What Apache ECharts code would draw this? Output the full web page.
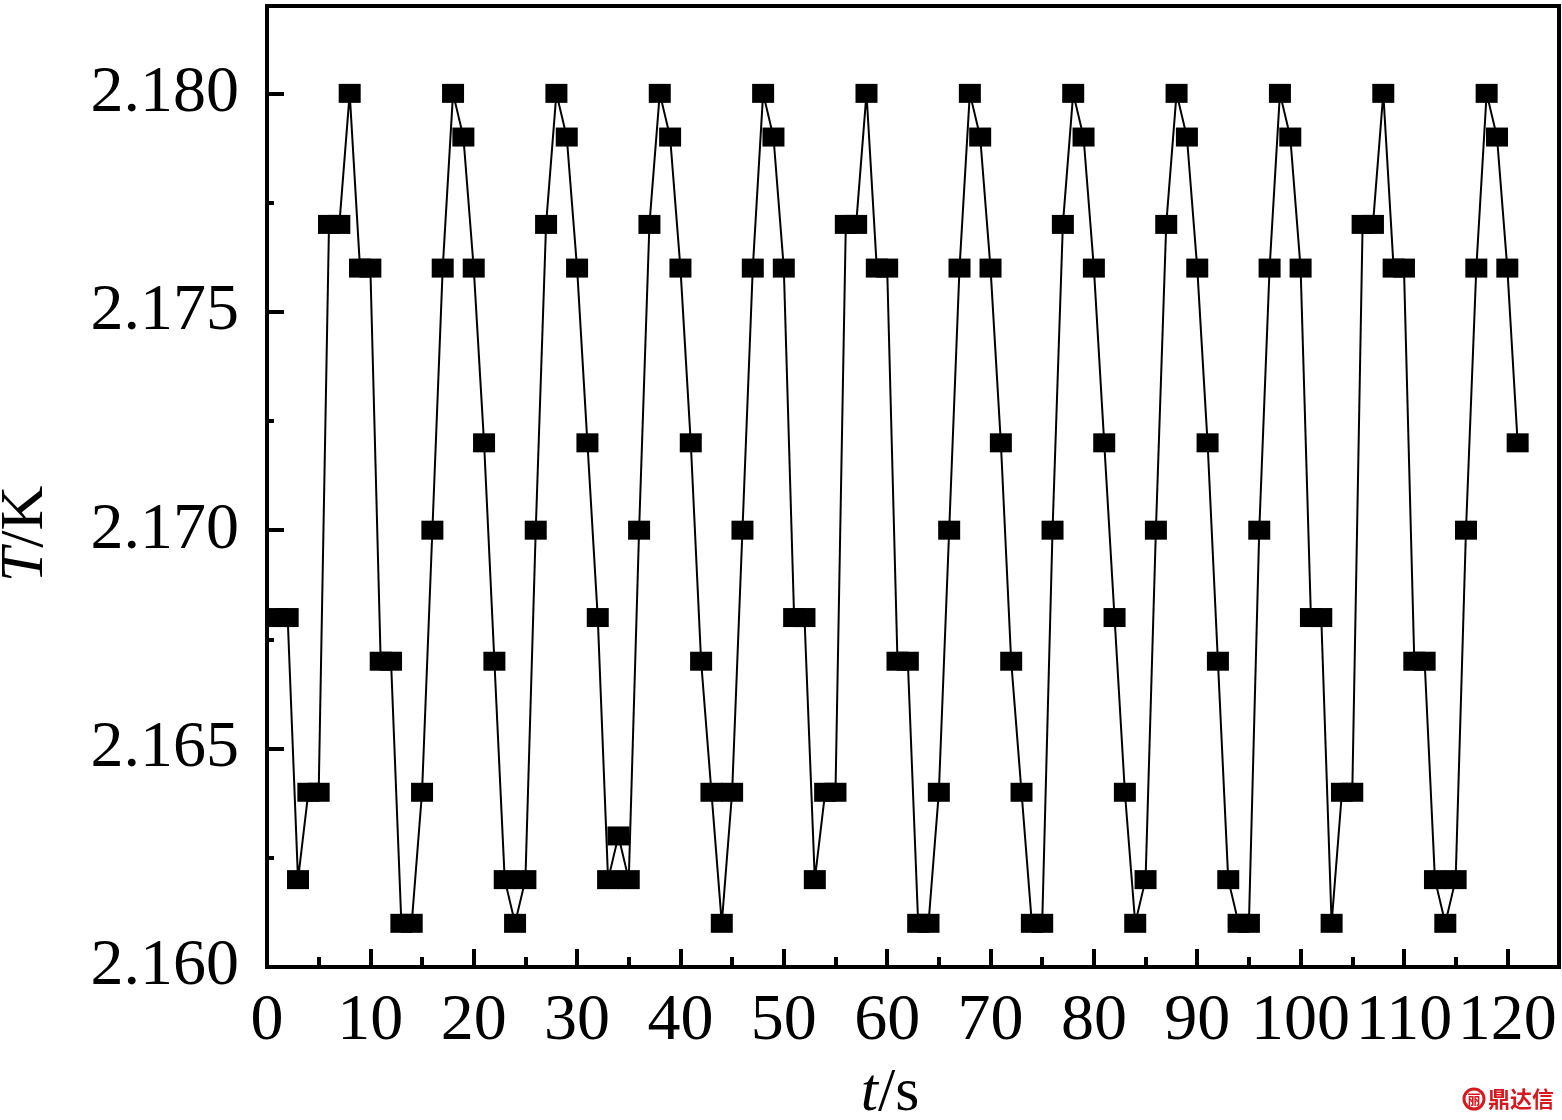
<!DOCTYPE html>
<html>
<head>
<meta charset="utf-8">
<title>T/K vs t/s</title>
<script src="https://cdn.jsdelivr.net/npm/echarts@6/dist/echarts.min.js"></script>
<style>
  html, body { margin: 0; padding: 0; background: #fff; }
  #chart { width: 1562px; height: 1120px; }
</style>
</head>
<body>
<div id="chart"></div>
<script>
// ---- data ----
const timeS = [
  1, 2, 3, 4, 5, 6, 7, 8, 9, 10,
  11, 12, 13, 14, 15, 16, 17, 18, 19, 20,
  21, 22, 23, 24, 25, 26, 27, 28, 29, 30,
  31, 32, 33, 34, 35, 36, 37, 38, 39, 40,
  41, 42, 43, 44, 45, 46, 47, 48, 49, 50,
  51, 52, 53, 54, 55, 56, 57, 58, 59, 60,
  61, 62, 63, 64, 65, 66, 67, 68, 69, 70,
  71, 72, 73, 74, 75, 76, 77, 78, 79, 80,
  81, 82, 83, 84, 85, 86, 87, 88, 89, 90,
  91, 92, 93, 94, 95, 96, 97, 98, 99, 100,
  101, 102, 103, 104, 105, 106, 107, 108, 109, 110,
  111, 112, 113, 114, 115, 116, 117, 118, 119, 120,
  121
];
const temperatureK = [
  2.168, 2.168, 2.162, 2.164, 2.164, 2.177, 2.177, 2.180, 2.176, 2.176,
  2.167, 2.167, 2.161, 2.161, 2.164, 2.170, 2.176, 2.180, 2.179, 2.176,
  2.172, 2.167, 2.162, 2.161, 2.162, 2.170, 2.177, 2.180, 2.179, 2.176,
  2.172, 2.168, 2.162, 2.163, 2.162, 2.170, 2.177, 2.180, 2.179, 2.176,
  2.172, 2.167, 2.164, 2.161, 2.164, 2.170, 2.176, 2.180, 2.179, 2.176,
  2.168, 2.168, 2.162, 2.164, 2.164, 2.177, 2.177, 2.180, 2.176, 2.176,
  2.167, 2.167, 2.161, 2.161, 2.164, 2.170, 2.176, 2.180, 2.179, 2.176,
  2.172, 2.167, 2.164, 2.161, 2.161, 2.170, 2.177, 2.180, 2.179, 2.176,
  2.172, 2.168, 2.164, 2.161, 2.162, 2.170, 2.177, 2.180, 2.179, 2.176,
  2.172, 2.167, 2.162, 2.161, 2.161, 2.170, 2.176, 2.180, 2.179, 2.176,
  2.168, 2.168, 2.161, 2.164, 2.164, 2.177, 2.177, 2.180, 2.176, 2.176,
  2.167, 2.167, 2.162, 2.161, 2.162, 2.170, 2.176, 2.180, 2.179, 2.176,
  2.172
];
const xTickLabels = [0, 10, 20, 30, 40, 50, 60, 70, 80, 90, 100, 110, 120];
const yTickLabels = ['2.160', '2.165', '2.170', '2.175', '2.180'];
const xTitle = '{i|t}/s';
const yTitle = '{i|T}/K';
const watermark = '鼎达信';

// ---- chart ----
const FONT = "'Liberation Serif', 'DejaVu Serif', serif";
const seriesData = timeS.map((t, i) => [t, temperatureK[i]]);

const chart = echarts.init(document.getElementById('chart'), null, { renderer: 'canvas' });

const tickLine = { color: '#000', width: 4 };

chart.setOption({
  animation: false,
  backgroundColor: '#fff',
  grid: {
    left: 267, top: 6, right: 3, bottom: 153,
    show: true, borderColor: '#000', borderWidth: 4, backgroundColor: 'transparent'
  },
  xAxis: [
    {
      type: 'value', min: 0, max: 125, interval: 5, position: 'bottom',
      axisLine: { show: false },
      axisTick: { show: true, inside: true, length: 10, lineStyle: tickLine },
      axisLabel: { show: false },
      splitLine: { show: false }
    },
    {
      type: 'value', min: 0, max: 125, interval: 10, position: 'bottom',
      axisLine: { show: false },
      axisTick: { show: true, inside: true, length: 18, lineStyle: tickLine },
      axisLabel: {
        show: true, margin: 22, color: '#000', fontSize: 66, fontFamily: FONT,
        formatter: v => (xTickLabels.indexOf(Math.round(v)) >= 0 && Math.abs(v - Math.round(v)) < 1e-9) ? String(Math.round(v)) : ''
      },
      splitLine: { show: false }
    }
  ],
  yAxis: [
    {
      type: 'value', min: 2.16, max: 2.182, interval: 0.0025, position: 'left',
      axisLine: { show: false },
      axisTick: { show: true, inside: true, length: 7, lineStyle: tickLine },
      axisLabel: { show: false },
      splitLine: { show: false }
    },
    {
      type: 'value', min: 2.16, max: 2.182, interval: 0.005, position: 'left',
      axisLine: { show: false },
      axisTick: { show: true, inside: true, length: 17, lineStyle: tickLine },
      axisLabel: {
        show: true, margin: 28, color: '#000', fontSize: 66, fontFamily: FONT,
        formatter: v => { const s = v.toFixed(3); return (yTickLabels.indexOf(s) >= 0 && Math.abs(v - 2.182) > 1e-7) ? s : ''; }
      },
      splitLine: { show: false }
    }
  ],
  series: [
    {
      type: 'line',
      xAxisIndex: 1,
      yAxisIndex: 1,
      data: seriesData,
      symbol: 'rect',
      symbolSize: [22, 19],
      showAllSymbol: true,
      clip: false,
      lineStyle: { color: '#000', width: 2 },
      itemStyle: { color: '#000', borderWidth: 0 },
      emphasis: { disabled: true }
    }
  ],
  graphic: [
    {
      type: 'text', x: 26, y: 534, rotation: Math.PI / 2, z: 10,
      style: {
        text: yTitle, fill: '#000', fontSize: 62, fontFamily: FONT,
        align: 'center', verticalAlign: 'middle',
        rich: { i: { fontStyle: 'italic', fontSize: 62, fontFamily: FONT, fill: '#000' } }
      }
    },
    {
      type: 'text', x: 890, y: 1094, z: 10,
      style: {
        text: xTitle, fill: '#000', fontSize: 62, fontFamily: FONT,
        align: 'center', verticalAlign: 'middle',
        rich: { i: { fontStyle: 'italic', fontSize: 62, fontFamily: FONT, fill: '#000' } }
      }
    },
    {
      type: 'circle', z: 10,
      shape: { cx: 1474, cy: 1099, r: 10 },
      style: { fill: '#fff', stroke: '#d7191f', lineWidth: 3 }
    },
    {
      type: 'text', x: 1474, y: 1099, z: 11,
      style: {
        text: '丽', fill: '#d7191f', fontSize: 13, fontWeight: 'bold',
        fontFamily: "'Noto Sans CJK SC', sans-serif", align: 'center', verticalAlign: 'middle'
      }
    },
    {
      type: 'text', x: 1488, y: 1099, z: 10,
      style: {
        text: watermark, fill: '#d7191f', fontSize: 22, fontWeight: 'bold',
        fontFamily: "'Noto Sans CJK SC', sans-serif", align: 'left', verticalAlign: 'middle'
      }
    }
  ]
});
</script>
</body>
</html>
